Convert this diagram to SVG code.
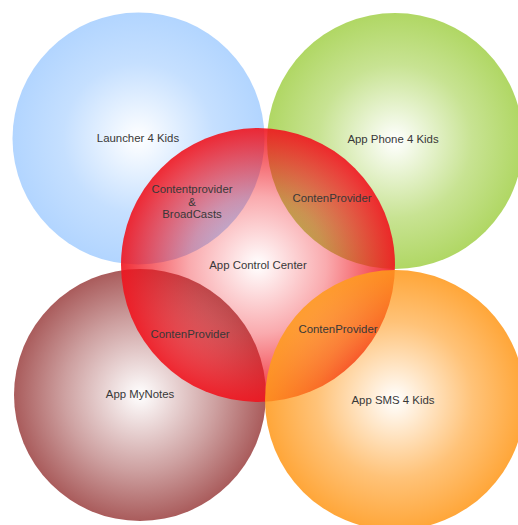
<svg xmlns="http://www.w3.org/2000/svg" width="518" height="525" viewBox="0 0 518 525">
  <style>
    .lbl { font-family: "Liberation Sans", Arial, sans-serif; font-size: 11.4px; fill: #383838; text-anchor: middle; }
  </style>
  <defs>
    <radialGradient id="gBlue">
      <stop offset="0" stop-color="#b2d5ff" stop-opacity="0"/>
      <stop offset="0.6" stop-color="#b2d5ff" stop-opacity="0.75"/>
      <stop offset="1" stop-color="#b2d5ff" stop-opacity="1"/>
    </radialGradient>
    <radialGradient id="gGreen">
      <stop offset="0" stop-color="#b0d764" stop-opacity="0"/>
      <stop offset="0.6" stop-color="#b0d764" stop-opacity="0.7"/>
      <stop offset="1" stop-color="#b0d764" stop-opacity="1"/>
    </radialGradient>
    <radialGradient id="gBrown">
      <stop offset="0" stop-color="#a55353" stop-opacity="0"/>
      <stop offset="0.6" stop-color="#a55353" stop-opacity="0.55"/>
      <stop offset="1" stop-color="#a55353" stop-opacity="0.95"/>
    </radialGradient>
    <radialGradient id="gRed">
      <stop offset="0" stop-color="#f0141e" stop-opacity="0"/>
      <stop offset="0.5" stop-color="#f0141e" stop-opacity="0.36"/>
      <stop offset="1" stop-color="#f0141e" stop-opacity="0.9"/>
    </radialGradient>
    <radialGradient id="gOrange">
      <stop offset="0" stop-color="#ff9a1e" stop-opacity="0"/>
      <stop offset="0.6" stop-color="#ff9a1e" stop-opacity="0.6"/>
      <stop offset="1" stop-color="#ff9a1e" stop-opacity="0.88"/>
    </radialGradient>
  </defs>

  <g id="launcher">
    <circle cx="138.5" cy="138.5" r="126" fill="url(#gBlue)"/>
    <text class="lbl" x="138" y="142">Launcher 4 Kids</text>
  </g>
  <g id="phone">
    <circle cx="395" cy="141" r="128" fill="url(#gGreen)"/>
    <text class="lbl" x="393" y="143">App Phone 4 Kids</text>
  </g>
  <g id="mynotes">
    <circle cx="140" cy="395" r="126" fill="url(#gBrown)"/>
    <text class="lbl" x="140" y="398">App MyNotes</text>
  </g>
  <g id="control-center">
    <circle cx="258" cy="265" r="137" fill="url(#gRed)"/>
    <text class="lbl" x="258" y="269">App Control Center</text>
  </g>
  <g id="sms">
    <circle cx="395" cy="400" r="130" fill="url(#gOrange)"/>
    <text class="lbl" x="393" y="404">App SMS 4 Kids</text>
  </g>

  <g id="overlap-launcher">
    <text class="lbl" x="192" y="193">Contentprovider</text>
    <text class="lbl" x="192" y="206">&amp;</text>
    <text class="lbl" x="192" y="218">BroadCasts</text>
  </g>
  <g id="overlap-phone">
    <text class="lbl" x="332" y="202">ContenProvider</text>
  </g>
  <g id="overlap-mynotes">
    <text class="lbl" x="190" y="338">ContenProvider</text>
  </g>
  <g id="overlap-sms">
    <text class="lbl" x="338" y="333">ContenProvider</text>
  </g>
</svg>
